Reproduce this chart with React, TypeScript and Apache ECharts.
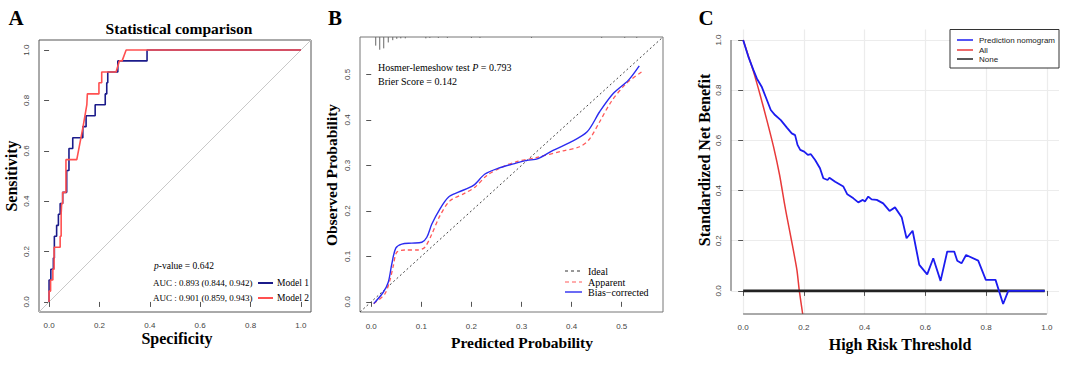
import { useEffect, useRef } from 'react';
import * as echarts from 'echarts';

const SERIF = '"Liberation Serif", "Times New Roman", serif';
const SANS = '"Liberation Sans", Arial, sans-serif';

// ---------- Panel A : ROC ----------
const rocTicks = [0, 0.2, 0.4, 0.6, 0.8, 1.0];
const rocMin = -0.04;
const rocMax = 1.04;
const model1Fpr = [0, 0, 0.007, 0.007, 0.017, 0.017, 0.021, 0.021, 0.030, 0.030, 0.037, 0.037, 0.044, 0.044, 0.054, 0.054, 0.070, 0.070, 0.079, 0.079, 0.094, 0.094, 0.134, 0.134, 0.147, 0.147, 0.183, 0.183, 0.223, 0.223, 0.229, 0.229, 0.233, 0.233, 0.273, 0.273, 0.389, 0.389, 1];
const model1Sens = [0, 0.087, 0.087, 0.130, 0.130, 0.174, 0.174, 0.261, 0.261, 0.304, 0.304, 0.348, 0.348, 0.391, 0.391, 0.435, 0.435, 0.522, 0.522, 0.609, 0.609, 0.652, 0.652, 0.696, 0.696, 0.739, 0.739, 0.783, 0.783, 0.826, 0.826, 0.870, 0.870, 0.913, 0.913, 0.957, 0.957, 1, 1];
const model2Fpr = [0, 0, 0.006, 0.006, 0.015, 0.015, 0.020, 0.020, 0.044, 0.044, 0.048, 0.048, 0.050, 0.050, 0.054, 0.054, 0.067, 0.067, 0.110, 0.135, 0.150, 0.152, 0.198, 0.198, 0.209, 0.209, 0.266, 0.279, 0.290, 0.306, 1];
const model2Sens = [0, 0.043, 0.043, 0.087, 0.087, 0.130, 0.130, 0.217, 0.217, 0.261, 0.261, 0.348, 0.348, 0.391, 0.391, 0.435, 0.435, 0.565, 0.565, 0.696, 0.783, 0.826, 0.826, 0.870, 0.870, 0.913, 0.913, 0.957, 0.957, 1, 1];
const aucLabels = ['AUC : 0.893 (0.844, 0.942)', 'AUC : 0.901 (0.859, 0.943)'];
const modelNames = ['Model 1', 'Model 2'];

// ---------- Panel B : calibration ----------
const calTicks = [0, 0.1, 0.2, 0.3, 0.4, 0.5];
const calMin = -0.0224;
const calMax = 0.5824;
const biasX = [0.005, 0.024, 0.034, 0.041, 0.049, 0.061, 0.081, 0.101, 0.111, 0.121, 0.137, 0.154, 0.174, 0.204, 0.227, 0.254, 0.289, 0.311, 0.333, 0.363, 0.396, 0.431, 0.456, 0.483, 0.513, 0.535];
const biasY = [-0.004, 0.021, 0.043, 0.083, 0.118, 0.127, 0.129, 0.131, 0.142, 0.171, 0.204, 0.230, 0.241, 0.256, 0.281, 0.294, 0.305, 0.311, 0.315, 0.333, 0.350, 0.374, 0.418, 0.458, 0.487, 0.519];
const apparentX = [0.005, 0.027, 0.037, 0.044, 0.051, 0.067, 0.094, 0.107, 0.121, 0.137, 0.157, 0.187, 0.207, 0.231, 0.261, 0.289, 0.329, 0.383, 0.416, 0.435, 0.456, 0.479, 0.509, 0.543];
const apparentY = [-0.004, 0.017, 0.046, 0.079, 0.109, 0.114, 0.114, 0.120, 0.149, 0.189, 0.222, 0.239, 0.252, 0.278, 0.296, 0.308, 0.317, 0.332, 0.341, 0.357, 0.396, 0.440, 0.480, 0.508];
const rugX = [0.009, 0.017, 0.025, 0.034, 0.043, 0.051, 0.059, 0.068, 0.109, 0.117, 0.134, 0.152, 0.200, 0.217, 0.320, 0.460, 0.506, 0.530];
const rugH = [0.019, 0.028, 0.025, 0.012, 0.007, 0.004, 0.003, 0.003, 0.003, 0.002, 0.002, 0.002, 0.002, 0.002, 0.002, 0.002, 0.002, 0.002];
const calLegend = ['Ideal', 'Apparent', 'Bias\u2212corrected'];

// ---------- Panel C : decision curve ----------
const dcaTicks = [0, 0.2, 0.4, 0.6, 0.8, 1.0];
const dcaXMin = -0.04;
const dcaXMax = 1.04;
const dcaYMin = -0.092;
const dcaYMax = 1.042;
const nomoT = [0, 0.017, 0.034, 0.045, 0.061, 0.076, 0.091, 0.105, 0.124, 0.144, 0.160, 0.171, 0.179, 0.188, 0.201, 0.213, 0.223, 0.237, 0.253, 0.264, 0.278, 0.284, 0.303, 0.330, 0.343, 0.363, 0.379, 0.394, 0.401, 0.412, 0.423, 0.440, 0.461, 0.482, 0.500, 0.522, 0.538, 0.558, 0.580, 0.606, 0.626, 0.650, 0.672, 0.695, 0.705, 0.719, 0.734, 0.774, 0.799, 0.831, 0.856, 0.873, 0.993];
const nomoNB = [1.0, 0.934, 0.880, 0.847, 0.814, 0.768, 0.721, 0.701, 0.681, 0.651, 0.628, 0.621, 0.582, 0.562, 0.555, 0.542, 0.545, 0.522, 0.489, 0.449, 0.442, 0.451, 0.435, 0.416, 0.385, 0.369, 0.353, 0.363, 0.356, 0.376, 0.365, 0.363, 0.349, 0.319, 0.333, 0.294, 0.210, 0.240, 0.104, 0.066, 0.130, 0.040, 0.157, 0.157, 0.120, 0.110, 0.143, 0.121, 0.044, 0.044, -0.052, 0.0, 0.0];
const allT = [0, 0.034, 0.056, 0.078, 0.100, 0.120, 0.136, 0.144, 0.160, 0.177, 0.185, 0.196];
const allNB = [1.0, 0.874, 0.781, 0.681, 0.575, 0.462, 0.349, 0.296, 0.196, 0.084, 0.0, -0.092];
const noneT = [0, 0.993];
const noneNB = [0, 0];
const dcaLegend = ['Prediction nomogram', 'All', 'None'];

const zip = (a: number[], b: number[]) => a.map((v, i) => [v, b[i]]);
const fmt1 = (v: number) => v.toFixed(1);

function axis(gridIndex: number, min: number, max: number, ticks: number[], isY: boolean, margin: number, split = false) {
  return {
    type: 'value',
    gridIndex,
    min,
    max,
    axisLine: { show: false },
    axisTick: { show: true, length: 5, customValues: ticks, lineStyle: { color: '#555', width: 1 } },
    axisLabel: {
      show: true,
      customValues: ticks,
      formatter: fmt1,
      fontSize: 8,
      color: '#444',
      fontFamily: SANS,
      margin,
      rotate: isY ? 90 : 0,
    },
    splitLine: { show: split, lineStyle: { color: '#ececec', width: 1.2 } },
  };
}

function txt(text: string, x: number, y: number, size: number, opts: any = {}) {
  return {
    type: 'text',
    x,
    y,
    rotation: opts.rotation || 0,
    z: 100,
    style: {
      text,
      fill: opts.fill || '#000',
      fontFamily: opts.family || SERIF,
      fontSize: size,
      fontWeight: opts.bold ? 'bold' : 'normal',
      align: opts.align || 'center',
      verticalAlign: 'middle',
      rich: opts.rich,
    },
  };
}

function seg(x1: number, y1: number, x2: number, y2: number, stroke: string, lineWidth: number, lineDash?: number[]) {
  return { type: 'line', z: 101, shape: { x1, y1, x2, y2 }, style: { stroke, lineWidth, lineDash } };
}

export default function App() {
  const ref = useRef<HTMLDivElement>(null);
  useEffect(() => {
    document.body.style.margin = '0';
    const chart = echarts.init(ref.current!, null, { renderer: 'svg' });
    const italic = { i: { fontStyle: 'italic', fontFamily: SERIF, fontSize: 10, fill: '#000' } };
    const italicA = { i: { fontStyle: 'italic', fontFamily: SERIF, fontSize: 9.5, fill: '#000' } };

    const graphics: any[] = [
      // Panel A
      txt('A', 16, 18, 21, { bold: true }),
      txt('Statistical comparison', 179, 28, 15.5, { bold: true }),
      txt('Sensitivity', 11, 176, 16, { bold: true, rotation: Math.PI / 2 }),
      txt('Specificity', 177, 338, 16, { bold: true }),
      txt('{i|p}-value = 0.642', 154, 266, 9.5, { align: 'left', rich: italicA }),
      txt(aucLabels[0], 153, 283, 9, { align: 'left' }),
      seg(258, 283, 273, 283, '#1b1b8a', 2),
      txt(modelNames[0], 277, 283, 9.5, { align: 'left' }),
      txt(aucLabels[1], 153, 298, 9, { align: 'left' }),
      seg(258, 298, 273, 298, '#ff5050', 2),
      txt(modelNames[1], 277, 298, 9.5, { align: 'left' }),
      // Panel B
      txt('B', 335, 18, 21, { bold: true }),
      txt('Observed Probability', 331, 175, 15.5, { bold: true, rotation: Math.PI / 2 }),
      txt('Predicted Probability', 522, 342, 15.5, { bold: true }),
      txt('Hosmer-lemeshow test {i|P} = 0.793', 378, 67, 10, { align: 'left', rich: italic }),
      txt('Brier Score = 0.142', 378, 81, 10, { align: 'left' }),
      seg(565, 271, 582, 271, '#333', 1, [3, 3]),
      txt(calLegend[0], 588, 271, 10, { align: 'left' }),
      seg(565, 282, 582, 282, '#ff5a5a', 1.2, [4, 3]),
      txt(calLegend[1], 588, 282, 10, { align: 'left' }),
      seg(565, 292, 582, 292, '#2b2bf0', 1.4),
      txt(calLegend[2], 588, 292, 10, { align: 'left' }),
      // Panel C
      txt('C', 706, 18, 21, { bold: true }),
      txt('Standardized Net Benefit', 704, 160, 16, { bold: true, rotation: Math.PI / 2 }),
      txt('High Risk Threshold', 900, 344, 16, { bold: true }),
      { type: 'rect', z: 99, shape: { x: 950, y: 29.5, width: 109, height: 38.5 }, style: { fill: '#fff', stroke: '#333', lineWidth: 1 } },
      seg(957, 40, 973, 40, '#1c1cf0', 1.5),
      txt(dcaLegend[0], 979, 40, 8, { align: 'left', family: SANS, fill: '#222' }),
      seg(957, 50, 973, 50, '#e83a3a', 1.5),
      txt(dcaLegend[1], 979, 50, 8, { align: 'left', family: SANS, fill: '#222' }),
      seg(957, 59, 973, 59, '#222', 1.5),
      txt(dcaLegend[2], 979, 59, 8, { align: 'left', family: SANS, fill: '#222' }),
    ];

    const option: any = {
      animation: false,
      backgroundColor: '#fff',
      grid: [
        { left: 39, top: 40, width: 272, height: 272, show: true, borderColor: '#555', borderWidth: 1 },
        { left: 360, top: 37, width: 303, height: 275, show: true, borderColor: '#777', borderWidth: 1 },
        { left: 731, top: 29.5, width: 328, height: 284.5, show: false },
      ],
      xAxis: [
        axis(0, rocMin, rocMax, rocTicks, false, 9),
        axis(1, calMin, calMax, calTicks, false, 10),
        axis(2, dcaXMin, dcaXMax, dcaTicks, false, 9, true),
      ],
      yAxis: [
        axis(0, rocMin, rocMax, rocTicks, true, 9),
        axis(1, calMin, calMax, calTicks, true, 9),
        axis(2, dcaYMin, dcaYMax, dcaTicks, true, 9, true),
      ],
      series: [
        // A
        { type: 'line', xAxisIndex: 0, yAxisIndex: 0, data: [[rocMin, rocMin], [rocMax, rocMax]], symbol: 'none', lineStyle: { color: '#c8c8c8', width: 1 } },
        { type: 'line', xAxisIndex: 0, yAxisIndex: 0, data: zip(model1Fpr, model1Sens), symbol: 'none', lineStyle: { color: '#1b1b8a', width: 1.6 } },
        { type: 'line', xAxisIndex: 0, yAxisIndex: 0, data: zip(model2Fpr, model2Sens), symbol: 'none', lineStyle: { color: '#ff5050', width: 1.6 } },
        // B
        { type: 'line', xAxisIndex: 1, yAxisIndex: 1, data: [[calMin, calMin], [calMax, calMax]], symbol: 'none', lineStyle: { color: '#444', width: 1, type: [2, 2.5] } },
        { type: 'line', xAxisIndex: 1, yAxisIndex: 1, data: zip(apparentX, apparentY), symbol: 'none', smooth: 0.3, lineStyle: { color: '#ff5a5a', width: 1.3, type: [4, 3] } },
        { type: 'line', xAxisIndex: 1, yAxisIndex: 1, data: zip(biasX, biasY), symbol: 'none', smooth: 0.3, lineStyle: { color: '#2b2bf0', width: 1.4 } },
        {
          type: 'custom', xAxisIndex: 1, yAxisIndex: 1, data: zip(rugX, rugH),
          renderItem: (_p: any, api: any) => {
            const x = api.value(0);
            const h = api.value(1);
            const p1 = api.coord([x, calMax]);
            const p2 = api.coord([x, calMax - h]);
            return { type: 'line', shape: { x1: p1[0], y1: p1[1], x2: p2[0], y2: p2[1] }, style: { stroke: '#666', lineWidth: 1 } };
          },
        },
        // C
        { type: 'line', xAxisIndex: 2, yAxisIndex: 2, data: zip(allT, allNB), symbol: 'none', smooth: 0.2, lineStyle: { color: '#e83a3a', width: 1.5 } },
        { type: 'line', xAxisIndex: 2, yAxisIndex: 2, data: zip(noneT, noneNB), symbol: 'none', lineStyle: { color: '#222', width: 2.6 } },
        { type: 'line', xAxisIndex: 2, yAxisIndex: 2, data: zip(nomoT, nomoNB), symbol: 'none', lineStyle: { color: '#1c1cf0', width: 1.8 } },
      ],
      graphic: graphics,
    };
    chart.setOption(option);

    // R-style axis lines for panel C (from first to last tick)
    const a = chart.convertToPixel({ gridIndex: 2 } as any, [dcaTicks[0], dcaYMin]) as number[];
    const b = chart.convertToPixel({ gridIndex: 2 } as any, [dcaTicks[dcaTicks.length - 1], dcaYMin]) as number[];
    const c = chart.convertToPixel({ gridIndex: 2 } as any, [dcaXMin, dcaTicks[0]]) as number[];
    const d = chart.convertToPixel({ gridIndex: 2 } as any, [dcaXMin, dcaTicks[dcaTicks.length - 1]]) as number[];
    chart.setOption({
      graphic: [
        ...graphics,
        seg(a[0], a[1], b[0], b[1], '#555', 1),
        seg(c[0], c[1], d[0], d[1], '#555', 1),
      ],
    });
    return () => chart.dispose();
  }, []);
  return <div ref={ref} style={{ width: 1080, height: 388 }} />;
}
